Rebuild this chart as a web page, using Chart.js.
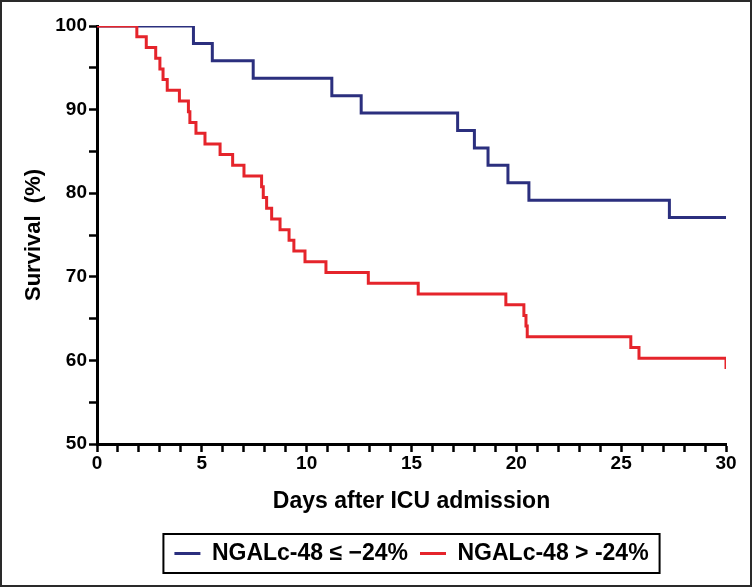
<!DOCTYPE html>
<html>
<head>
<meta charset="utf-8">
<script src="https://cdn.jsdelivr.net/npm/chart.js@4/dist/chart.umd.min.js"></script>
<style>
    html, body { margin: 0; padding: 0; background: #fff; }
    #frame { width: 748px; height: 583px; border: 2px solid #2a2a2a; }
    canvas { display: block; }
</style>
</head>
<body>
<div id="frame"><canvas id="km" width="748" height="583"></canvas></div>
<script>
// Kaplan-Meier curves (days, survival %)
const blueLabel = 'NGALc-48 \u2264 \u221224%';
const blueDays = [0, 4.6, 5.5, 7.45, 11.2, 12.6, 17.2, 18.0, 18.65, 19.6, 20.6, 27.3, 30];
const blueSurvival = [100, 97.92, 95.83, 93.75, 91.67, 89.58, 87.5, 85.42, 83.33, 81.25, 79.17, 77.08, 77.08];

const redLabel = 'NGALc-48 > -24%';
const redDays = [0, 1.9, 2.35, 2.8, 3.0, 3.15, 3.35, 3.93, 4.36, 4.43, 4.72, 5.15, 5.87, 6.47, 7.01,
    7.85, 7.93, 8.09, 8.33, 8.73, 9.16, 9.39, 9.92, 10.92, 12.94, 15.32, 19.5, 20.36, 20.46, 20.52,
    25.46, 25.85, 30];
const redSurvival = [100, 98.72, 97.44, 96.15, 94.87, 93.59, 92.31, 91.03, 89.74, 88.46, 87.18, 85.90,
    84.62, 83.33, 82.05, 80.77, 79.49, 78.21, 76.92, 75.64, 74.36, 73.08, 71.79, 70.51, 69.23, 67.95,
    66.67, 65.38, 64.10, 62.82, 61.54, 60.26, 58.97];

const xTicks = [0, 5, 10, 15, 20, 25, 30];
const yTicks = [50, 60, 70, 80, 90, 100];

const FONT = "'Liberation Sans', Arial, sans-serif";

const toPoints = (xs, ys) => xs.map((x, i) => ({ x: x, y: ys[i] }));

// box around the legend items, like the original
const legendBox = {
    id: 'legendBox',
    afterDraw(chart) {
        const boxes = chart.legend && chart.legend.legendHitBoxes;
        if (!boxes || !boxes.length) return;
        const left = Math.min(...boxes.map(b => b.left)) - 11;
        const right = Math.max(...boxes.map(b => b.left + b.width)) + 11;
        const mid = boxes[0].top + boxes[0].height / 2;
        const ctx = chart.ctx;
        ctx.save();
        ctx.strokeStyle = '#000';
        ctx.lineWidth = 2;
        ctx.strokeRect(left, mid - 19.5, right - left, 39);
        ctx.restore();
    }
};

new Chart(document.getElementById('km'), {
    type: 'line',
    data: {
        datasets: [
            {
                label: blueLabel,
                data: toPoints(blueDays, blueSurvival),
                borderColor: '#2b2f7e',
                backgroundColor: '#2b2f7e',
                borderWidth: 3,
                stepped: 'before',
                pointRadius: 0,
                borderJoinStyle: 'miter',
                order: 1
            },
            {
                label: redLabel,
                data: toPoints(redDays, redSurvival),
                borderColor: '#e5242b',
                backgroundColor: '#e5242b',
                borderWidth: 3,
                stepped: 'before',
                pointRadius: 0,
                borderJoinStyle: 'miter',
                order: 0
            }
        ]
    },
    options: {
        responsive: false,
        animation: false,
        events: [],
        layout: { padding: { top: 24, right: 24, left: 0, bottom: 10 } },
        plugins: {
            tooltip: { enabled: false },
            legend: {
                position: 'bottom',
                fullSize: false,
                labels: {
                    usePointStyle: true,
                    pointStyle: 'line',
                    pointStyleWidth: 26,
                    padding: 12,
                    color: '#000',
                    font: { family: FONT, size: 23, weight: 'bold' },
                    sort: (a, b) => a.datasetIndex - b.datasetIndex
                }
            }
        },
        scales: {
            x: {
                type: 'linear',
                min: 0,
                max: 30,
                afterFit(scale) { scale.height = 86; },
                border: { display: true, color: '#000', width: 3 },
                grid: { drawOnChartArea: false, drawTicks: true, tickLength: 8, tickWidth: 2.5, tickColor: '#000' },
                ticks: {
                    stepSize: 1,
                    autoSkip: false,
                    maxRotation: 0,
                    padding: 0,
                    color: '#000',
                    font: { family: FONT, size: 19, weight: 'bold' },
                    callback: v => xTicks.includes(v) ? v : ''
                },
                title: {
                    display: true,
                    text: 'Days after ICU admission',
                    color: '#000',
                    font: { family: FONT, size: 23, weight: 'bold' },
                    padding: { top: 4, bottom: 15 }
                }
            },
            y: {
                min: 50,
                max: 100,
                afterFit(scale) { scale.width = 95; },
                border: { display: true, color: '#000', width: 3 },
                grid: { drawOnChartArea: false, drawTicks: true, tickLength: 8, tickWidth: 2.5, tickColor: '#000' },
                ticks: {
                    stepSize: 5,
                    autoSkip: false,
                    padding: 2,
                    color: '#000',
                    font: { family: FONT, size: 19, weight: 'bold' },
                    callback: v => yTicks.includes(v) ? v : ''
                },
                title: {
                    display: true,
                    text: 'Survival  (%)',
                    color: '#000',
                    font: { family: FONT, size: 22, weight: 'bold' },
                    padding: { top: 19, bottom: 0 }
                }
            }
        }
    },
    plugins: [legendBox]
});
</script>
</body>
</html>
